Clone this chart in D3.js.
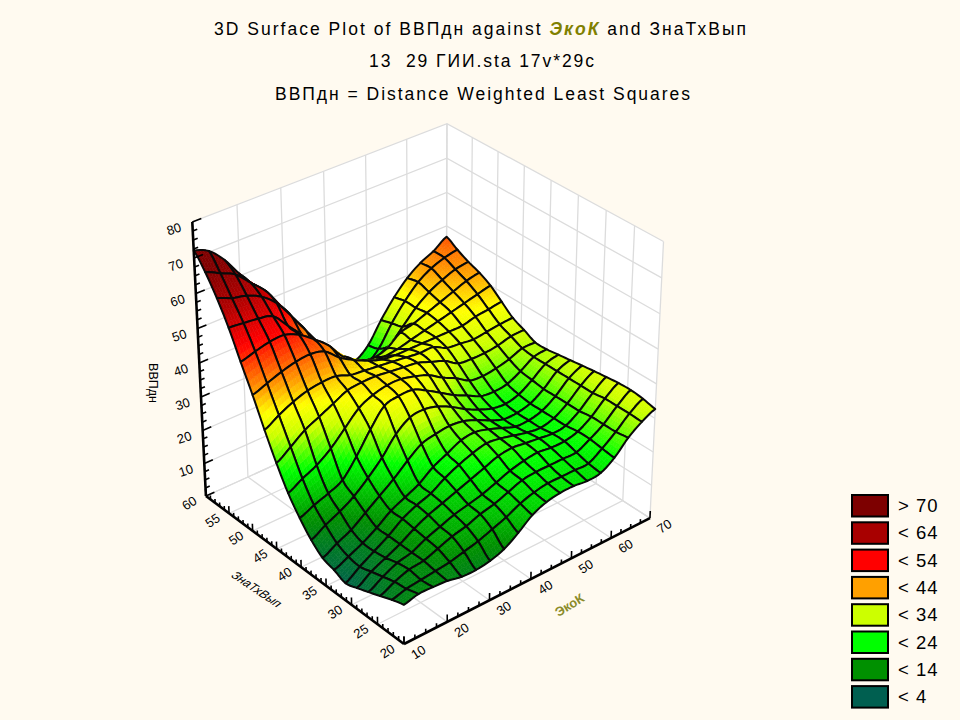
<!DOCTYPE html>
<html>
<head>
<meta charset="utf-8">
<script src="https://cdn.jsdelivr.net/npm/d3@7"></script>
<style>
  html, body { margin: 0; padding: 0; background: #fffaf0; }
  text { font-family: "Liberation Sans", Arial, sans-serif; fill: #000; }
</style>
</head>
<body>
<script>
// axis ranges and ticks
const xTicks = [10, 20, 30, 40, 50, 60, 70];
const yTicks = [20, 25, 30, 35, 40, 45, 50, 55, 60];
const zTicks = [0, 10, 20, 30, 40, 50, 60, 70, 80];

// surface heights: rows go y=20..60, columns x=10..70
const surface = [
  [11.5,12.5,12.4,12.1,11.2,11.1,11.7,13.1,15.8,19,20.8,21.5,21.6,21.1,21.5,24,28,30.8,32.7],
  [10.4,11.5,12,12.5,13,14,15,16.5,18,20,21.3,22,22,22,22,24.5,27.5,31,33.5],
  [9,11,12.5,13,14.5,16,17,18.5,19.5,21,22.5,23,23,23,23,25,27.5,31,33.9],
  [7.6,10,12,13,15,16.5,18,19,20,21.5,23,24,24.5,24,24,25,27.5,31,33.8],
  [6.3,9,11,13,15.5,17.5,19,20.5,22,23.5,25,25.5,25,24.5,24,24.5,27,30.5,33.4],
  [5.2,8,10.5,13,16,18,19.5,22,24,25.5,26.5,26,25,24,23.5,24.5,27,30.5,33],
  [6.6,8.5,10.5,13,16,18,20,23,25,27,27.5,26.5,25,23.5,23.5,24.5,27,30.5,32.5],
  [7.7,10,12,15,18,21,24.5,27.5,28.5,29,28.5,27,25,23.5,23.5,24.5,27,30.5,32],
  [10.6,13,15,17.5,21,25,30,33,33.5,32.5,30.5,28,26,24.5,24,25,27.5,30.5,31.5],
  [14.7,16.5,18,20,25,31,36,37,37,35,32.5,30,28,26,25.5,26,28,30.5,31],
  [19.7,22,24,27,31,35,37,38,38,37,35.5,33,31,28.5,28,28.5,29.5,31,31],
  [26.2,29,32,34,36,38,38.5,38.5,38,37.5,37,35.5,34,31.5,31,31,31.5,32.5,32.7],
  [33.6,36,38,39.4,40,40,38.5,38,37.5,37,36.5,36,36,34,33.5,33,33.5,34,34.3],
  [41.5,43,44.5,45.6,46,45,41.5,39,37,35.5,35,35,35,35,35,35,36,36.5,37.1],
  [48.8,50,51,51.2,49.5,46.5,43,38,35,33,32.5,33,34,35,36,37,38,39,39.9],
  [56.4,56,55.5,54.5,50,45.5,40,36,33,31,30,31,34,35,36.5,38,39.5,41,41.8],
  [62.7,61,60,58,54.5,49,43,37,32,28,26,26,28,32,36,39,41,42.5,43.1],
  [68,66,64,60,56,50,44,38,32,27,23,22,25,31,36,40,42.5,44,44.8],
  [72,70.3,66.2,60.5,55,49.7,44,38,31,26,22,21,24,30,35.2,39.3,42.2,44.1,46.8]
];

const legendLabels = ["> 70", "< 64", "< 54", "< 44", "< 34", "< 24", "< 14", "< 4"];
const legendColors = ["#7d0000", "#a80000", "#ff0000", "#ffa000", "#ccff00", "#00ff00", "#009000", "#005f50"];

const colorStops = [4, 14, 24, 32, 37, 42, 52, 60, 68];
const colorValues = ["#005f50", "#009000", "#00ff00", "#ccff00", "#ffff00", "#ffa000", "#ff0000", "#b00000", "#800000"];

const width = 960, height = 720;

const svg = d3.select("body").append("svg")
  .attr("width", width)
  .attr("height", height)
  .style("display", "block");

// scales into the unit box
const scaleX = d3.scaleLinear().domain([10, 70]).range([0, 1]);
const scaleY = d3.scaleLinear().domain([20, 60]).range([0, 1]);
const scaleZ = d3.scaleLinear().domain([0, 80]).range([0, 1]);
const color = d3.scaleLinear().domain(colorStops).range(colorValues).clamp(true);

// perspective: box corner plus the three vanishing points
const origin = [404, 644];
const vanishX = [4399, -1401], weightX = 0.0656;
const vanishY = [-2273, -1356], weightY = 0.0799;
const vanishZ = [430, 5000], weightZ = -0.06195;

function project(x, y, z) {
  const u = scaleX(x) * weightX, v = scaleY(y) * weightY, w = scaleZ(z) * weightZ;
  const t = 1 + u + v + w;
  return [
    (origin[0] + u * vanishX[0] + v * vanishY[0] + w * vanishZ[0]) / t,
    (origin[1] + u * vanishX[1] + v * vanishY[1] + w * vanishZ[1]) / t
  ];
}

const line = d3.line();
const closed = d3.line().curve(d3.curveLinearClosed);

const xMin = 10, xMax = 70, yMin = 20, yMax = 60, zMax = 80;

// walls and floor
const box = svg.append("g");
const faces = [
  [[xMin, yMin, 0], [xMax, yMin, 0], [xMax, yMax, 0], [xMin, yMax, 0]],
  [[xMin, yMax, 0], [xMax, yMax, 0], [xMax, yMax, zMax], [xMin, yMax, zMax]],
  [[xMax, yMin, 0], [xMax, yMax, 0], [xMax, yMax, zMax], [xMax, yMin, zMax]]
];
box.selectAll("path.face").data(faces).enter().append("path")
  .attr("class", "face")
  .attr("d", d => closed(d.map(p => project(...p))))
  .attr("fill", "#fff")
  .attr("stroke", "#fff");

const gridLines = [];
xTicks.forEach(x => {
  gridLines.push([[x, yMin, 0], [x, yMax, 0], [x, yMax, zMax]]);
});
yTicks.forEach(y => {
  gridLines.push([[xMin, y, 0], [xMax, y, 0], [xMax, y, zMax]]);
});
zTicks.forEach(z => {
  gridLines.push([[xMin, yMax, z], [xMax, yMax, z], [xMax, yMin, z]]);
});
box.selectAll("path.grid").data(gridLines).enter().append("path")
  .attr("class", "grid")
  .attr("d", d => line(d.map(p => project(...p))))
  .attr("fill", "none")
  .attr("stroke", "#dcdcdc")
  .attr("stroke-width", 1.3);

// surface, back cells first
const surfaceG = svg.append("g");
const nodes = surface.length - 1;
const nodeX = i => xMin + (xMax - xMin) * i / nodes;
const nodeY = j => yMin + (yMax - yMin) * j / nodes;
const split = 5;

// rounds the drawn cells between the read heights
function spline(a, b, c, d, t) {
  return b + 0.5 * t * (c - a + t * (2 * a - 5 * b + 4 * c - d + t * (3 * (b - c) + d - a)));
}
function height3d(fi, fj) {
  const i = Math.min(Math.floor(fi), nodes - 1), j = Math.min(Math.floor(fj), nodes - 1);
  const pick = (r, c) => surface[Math.max(0, Math.min(nodes, r))][Math.max(0, Math.min(nodes, c))];
  const row = r => spline(pick(r, i - 1), pick(r, i), pick(r, i + 1), pick(r, i + 2), fi - i);
  return spline(row(j - 1), row(j), row(j + 1), row(j + 2), fj - j);
}

for (let j = nodes - 1; j >= 0; j--) {
  for (let i = nodes - 1; i >= 0; i--) {
    const at = (a, b) => {
      const z = height3d(i + a, j + b);
      return { z: z, p: project(nodeX(i + a), nodeY(j + b), z) };
    };
    const cell = surfaceG.append("g");
    for (let b = 0; b < split; b++) {
      for (let a = 0; a < split; a++) {
        const c = [at(a / split, b / split), at((a + 1) / split, b / split), at((a + 1) / split, (b + 1) / split), at(a / split, (b + 1) / split)];
        const fill = color(d3.mean(c, d => d.z));
        cell.append("path")
          .attr("d", closed(c.map(d => d.p)))
          .attr("fill", fill)
          .attr("stroke", fill)
          .attr("stroke-width", 0.6);
      }
    }
    const outline = [];
    [[0, 0, 1, 0], [1, 0, 1, 1], [1, 1, 0, 1], [0, 1, 0, 0]].forEach(s => {
      for (let k = 0; k < split; k++) {
        outline.push(at(s[0] + (s[2] - s[0]) * k / split, s[1] + (s[3] - s[1]) * k / split).p);
      }
    });
    cell.append("path")
      .attr("d", closed(outline))
      .attr("fill", "none")
      .attr("stroke", "#0a0a0a")
      .attr("stroke-width", 2)
      .attr("stroke-linejoin", "round");
  }
}

// axes
const axes = svg.append("g");
const axisLines = [
  [[xMin, yMin, 0], [xMax, yMin, 0]],
  [[xMin, yMin, 0], [xMin, yMax, 0]],
  [[xMin, yMax, 0], [xMin, yMax, zMax]]
];
axes.selectAll("path.axis").data(axisLines).enter().append("path")
  .attr("class", "axis")
  .attr("d", d => line(d.map(p => project(...p))))
  .attr("stroke", "#000")
  .attr("stroke-width", 2.6);

function tick(from, to, w) {
  axes.append("path")
    .attr("d", line([project(...from), project(...to)]))
    .attr("stroke", "#000")
    .attr("stroke-width", w);
}
d3.range(10, 70.01, 2.5).forEach(x => {
  const major = x % 10 === 0;
  tick([x, yMin, 0], [x, yMin, major ? 2.2 : 1.2], 1.6);
});
d3.range(20, 60.01, 1).forEach(y => {
  const major = y % 5 === 0;
  tick([xMin, y, 0], [xMin, y, major ? 2.2 : 1.2], 1.6);
});
d3.range(0, 80.01, 2.5).forEach(z => {
  const major = z % 10 === 0;
  tick([xMin, yMax, z], [xMin + (major ? 2 : 1), yMax, z], 1.6);
});

// tick labels
function tickLabel(p, dx, dy, angle, label) {
  axes.append("text")
    .attr("transform", `translate(${p[0] + dx},${p[1] + dy}) rotate(${angle})`)
    .attr("text-anchor", "middle")
    .attr("dominant-baseline", "middle")
    .attr("font-size", 13)
    .text(label);
}
xTicks.forEach(x => tickLabel(project(x, yMin, 0), 15, 9, -33, x));
yTicks.forEach(y => tickLabel(project(xMin, y, 0), -16, 8, -33, y));
zTicks.filter(z => z > 0).forEach(z => tickLabel(project(xMin, yMax, z), -18, 8, -18, z));

// axis titles
svg.append("text")
  .attr("transform", "translate(570,606) rotate(-32)")
  .attr("text-anchor", "middle")
  .attr("dominant-baseline", "middle")
  .attr("font-size", 13)
  .attr("font-weight", "bold")
  .style("fill", "#8b8b2a")
  .text("ЭкоК");
svg.append("text")
  .attr("transform", "translate(256,590) rotate(34) skewX(-20)")
  .attr("text-anchor", "middle")
  .attr("dominant-baseline", "middle")
  .attr("font-size", 12)
  .text("ЗнаТхВып");
svg.append("text")
  .attr("transform", "translate(152,383) rotate(90)")
  .attr("text-anchor", "middle")
  .attr("dominant-baseline", "middle")
  .attr("font-size", 12.5)
  .text("ВВПдн");

// titles
const t1 = svg.append("text")
  .attr("x", 214).attr("y", 35)
  .attr("font-size", 17.5)
  .attr("textLength", 532);
t1.append("tspan").text("3D Surface Plot of ВВПдн against ");
t1.append("tspan").text("ЭкоК")
  .attr("font-weight", "bold").attr("font-style", "italic")
  .style("fill", "#808000");
t1.append("tspan").text(" and ЗнаТхВып");
svg.append("text")
  .attr("x", 369).attr("y", 67)
  .attr("font-size", 17.5)
  .attr("textLength", 225)
  .style("white-space", "pre")
  .text("13  29 ГИИ.sta 17v*29c");
svg.append("text")
  .attr("x", 275).attr("y", 100)
  .attr("font-size", 17.5)
  .attr("textLength", 415)
  .text("ВВПдн = Distance Weighted Least Squares");

// legend
const legend = svg.selectAll("g.legend").data(legendLabels).enter().append("g")
  .attr("class", "legend")
  .attr("transform", (d, i) => `translate(852,${495 + i * 27.3})`);
legend.append("rect")
  .attr("width", 36)
  .attr("height", 21.5)
  .attr("fill", (d, i) => legendColors[i])
  .attr("stroke", "#000")
  .attr("stroke-width", 2);
legend.append("text")
  .attr("x", 46)
  .attr("y", 17)
  .attr("font-size", 18.5)
  .attr("letter-spacing", 1)
  .text(d => d);
</script>
</body>
</html>
